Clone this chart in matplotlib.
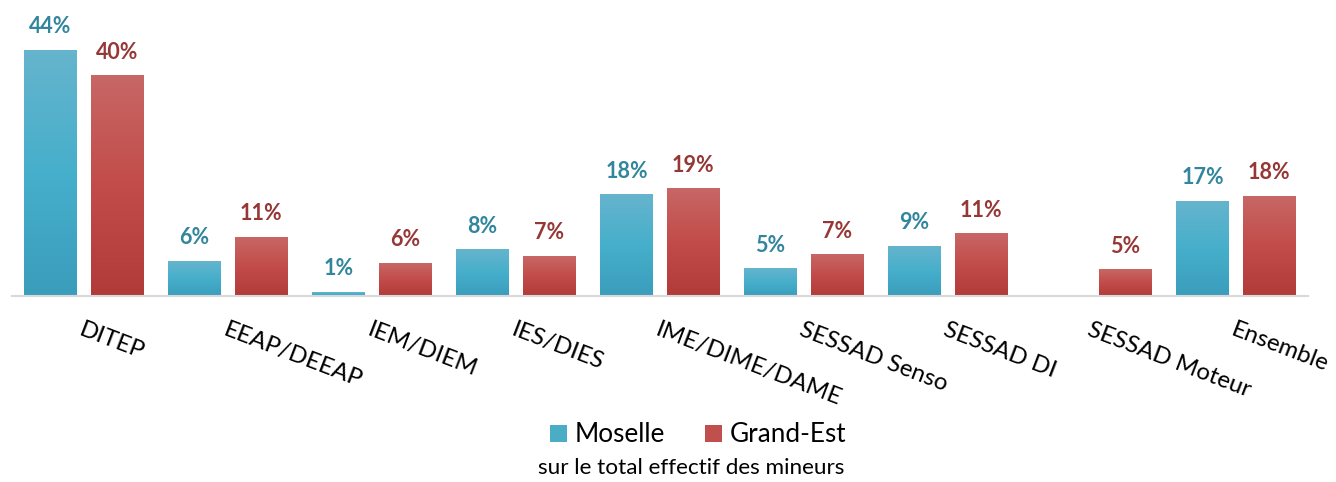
import numpy as np
import matplotlib
matplotlib.use("Agg")
import matplotlib.pyplot as plt
from matplotlib.colors import LinearSegmentedColormap
from matplotlib.patches import Patch

plt.rcParams['font.family'] = ['Lato', 'DejaVu Sans']

categories = ["DITEP", "EEAP/DEEAP", "IEM/DIEM", "IES/DIES", "IME/DIME/DAME",
              "SESSAD Senso", "SESSAD DI", "SESSAD Moteur", "Ensemble"]
moselle = [44.3, 6.3, 0.7, 8.3, 18.2, 4.9, 9.0, np.nan, 17.1]
grand_est = [39.7, 10.6, 5.9, 7.2, 19.3, 7.4, 11.2, 4.7, 18.0]
series_names = ["Moselle", "Grand-Est"]
subtitle = "sur le total effectif des mineurs"

W, H = 1336, 482
fig = plt.figure(figsize=(W / 100, H / 100), dpi=100)
ax = fig.add_axes([12 / W, (H - 296) / H, 1296 / W, 250 / H])

grad_m = LinearSegmentedColormap.from_list("gm", ["#3A9DBB", "#46AFCB", "#66B4CD"])
grad_g = LinearSegmentedColormap.from_list("gg", ["#B13B39", "#C24C49", "#C76766"])
solid_m, solid_g = "#4BACC6", "#C0504D"
lab_m, lab_g = "#31859C", "#953735"

x = np.arange(len(categories))
bw = 0.368
off = 0.232
ax.set_xlim(-0.5, len(categories) - 0.5)
ax.set_ylim(0, 44.3 * 250 / 246)

grad = np.linspace(0, 1, 256).reshape(-1, 1)
for vals, sign, cmap, lc in [(moselle, -1, grad_m, lab_m), (grand_est, 1, grad_g, lab_g)]:
    vals_arr = np.array(vals, dtype=float)
    bars = ax.bar(x + sign * off, np.nan_to_num(vals_arr), bw, color="none", edgecolor="none")
    for b, v in zip(bars, vals_arr):
        if np.isnan(v):
            continue
        x0, w, h = b.get_x(), b.get_width(), b.get_height()
        ax.imshow(grad, cmap=cmap, origin="lower", aspect="auto",
                  extent=[x0, x0 + w, 0, h], zorder=2, interpolation="bilinear")
        ax.annotate(f"{round(v)}%", (x0 + w / 2, h), xytext=(0, 12.2),
                    textcoords="offset points", ha="center", va="baseline",
                    fontsize=15.5, fontweight="bold", color=lc, annotation_clip=False)

for s in ["top", "right", "left"]:
    ax.spines[s].set_visible(False)
ax.spines["bottom"].set_color("#D9D9D9")
ax.spines["bottom"].set_linewidth(1.5)
ax.set_yticks([])
ax.set_xticks(x)
ax.set_xticklabels(categories, rotation=-21, ha="left", rotation_mode="anchor",
                   fontsize=17.3, color="black")
ax.tick_params(axis="x", length=0, pad=17)

handles = [Patch(facecolor=solid_m, edgecolor="none"), Patch(facecolor=solid_g, edgecolor="none")]
fig.legend(handles, series_names, loc="center", bbox_to_anchor=(698 / W, 1 - 435 / H),
           ncol=2, frameon=False, fontsize=18.8, handlelength=0.66, handleheight=0.66,
           handletextpad=0.31, columnspacing=1.5)
fig.text(691 / W, 1 - 468 / H, subtitle, ha="center", va="center", fontsize=16.2)

fig.savefig("out.png", dpi=100)
